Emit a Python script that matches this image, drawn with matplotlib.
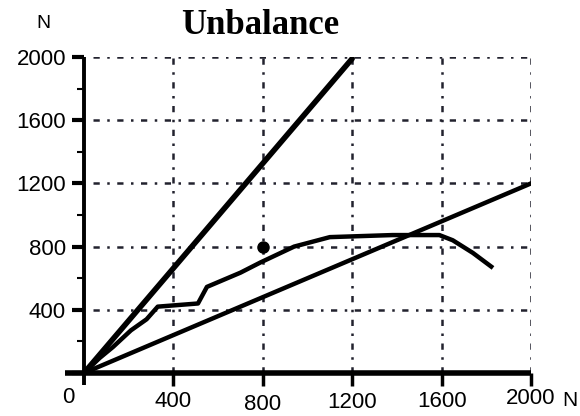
import matplotlib.pyplot as plt
from matplotlib.transforms import ScaledTranslation

plt.rcParams['font.family'] = ['Liberation Sans', 'DejaVu Sans']

# data
ticks = [0, 400, 800, 1200, 1600, 2000]
x_labels = ['0', '400', '800', '1200', '1600', '2000']
y_labels = ['', '400', '800', '1200', '1600', '2000']

steep_x = [0, 1200]
steep_y = [0, 1990]

mid_x = [0, 70, 130, 210, 280, 330, 420, 510, 550, 600, 700, 790, 880, 940,
         1100, 1380, 1590, 1650, 1740, 1830]
mid_y = [0, 95, 165, 270, 340, 420, 430, 440, 545, 575, 635, 700, 760, 800,
         860, 873, 873, 840, 760, 665]

low_x = [0, 2000]
low_y = [0, 1200]

dot_x = [800]
dot_y = [800]

# small vertical shifts of the x tick labels (points), as in the scan
label_shift = [0, -3, -5, -4, -3, -1]

fig = plt.figure(figsize=(5.8, 4.16), dpi=100)
ax = fig.add_axes([84 / 580, 43 / 416, 447 / 580, 316 / 416])
ax.set_xlim(0, 2000)
ax.set_ylim(0, 2000)

for s in ax.spines.values():
    s.set_visible(False)

grid_style = dict(color='#22222e', lw=1.8, ls=(0, (2.5, 3, 1, 3)), zorder=1)
for t in ticks[1:]:
    ax.plot([t, t], [0, 2000], **grid_style)
    ax.plot([40, 2000], [t, t], **grid_style)

# axis lines
ax.plot([-85, 2000], [0, 0], color='black', lw=4, clip_on=False,
        solid_capstyle='butt', zorder=4)
ax.plot([0, 0], [-75, 2000], color='black', lw=2.8, clip_on=False,
        solid_capstyle='butt', zorder=4)

ax.plot(steep_x, steep_y, color='black', lw=4, zorder=3,
        solid_capstyle='round')
ax.plot(mid_x, mid_y, color='black', lw=3.2, zorder=3,
        solid_capstyle='butt')
ax.plot(low_x, low_y, color='black', lw=3.2, zorder=3)
ax.plot(dot_x, dot_y, 'o', color='black', ms=8, zorder=3)

ax.set_yticks(ticks)
ax.set_yticklabels(y_labels, fontsize=16)
ax.set_yticks([200, 600, 1000, 1400, 1800], minor=True)
ax.tick_params(axis='y', which='major', direction='out', length=9,
               width=3, pad=4, color='black')
ax.tick_params(axis='y', which='minor', direction='out', length=5,
               width=1.5, color='black')

ax.set_xticks(ticks[1:])
ax.set_xticklabels([])
ax.tick_params(axis='x', which='major', direction='out', length=9,
               width=2.5, color='black')

for t, lab, dy in zip(ticks, x_labels, label_shift):
    xt = t if t > 0 else -70
    txt = ax.text(xt, 0, lab, ha='center', va='top', fontsize=16,
                  transform=ax.get_xaxis_transform())
    txt.set_transform(ax.get_xaxis_transform() +
                      ScaledTranslation(0, (-10 + dy) / 72, fig.dpi_scale_trans))

fig.text(570 / 580, 1 - 401 / 416, 'N', ha='center', va='center', fontsize=15)
fig.text(43 / 580, 1 - 24 / 416, 'N', ha='center', va='center', fontsize=14)
fig.text(260 / 580, 1 - 25 / 416, 'Unbalance', ha='center', va='center',
         fontsize=25, fontweight='bold', family='Liberation Serif')

fig.savefig('out.png', dpi=100)
